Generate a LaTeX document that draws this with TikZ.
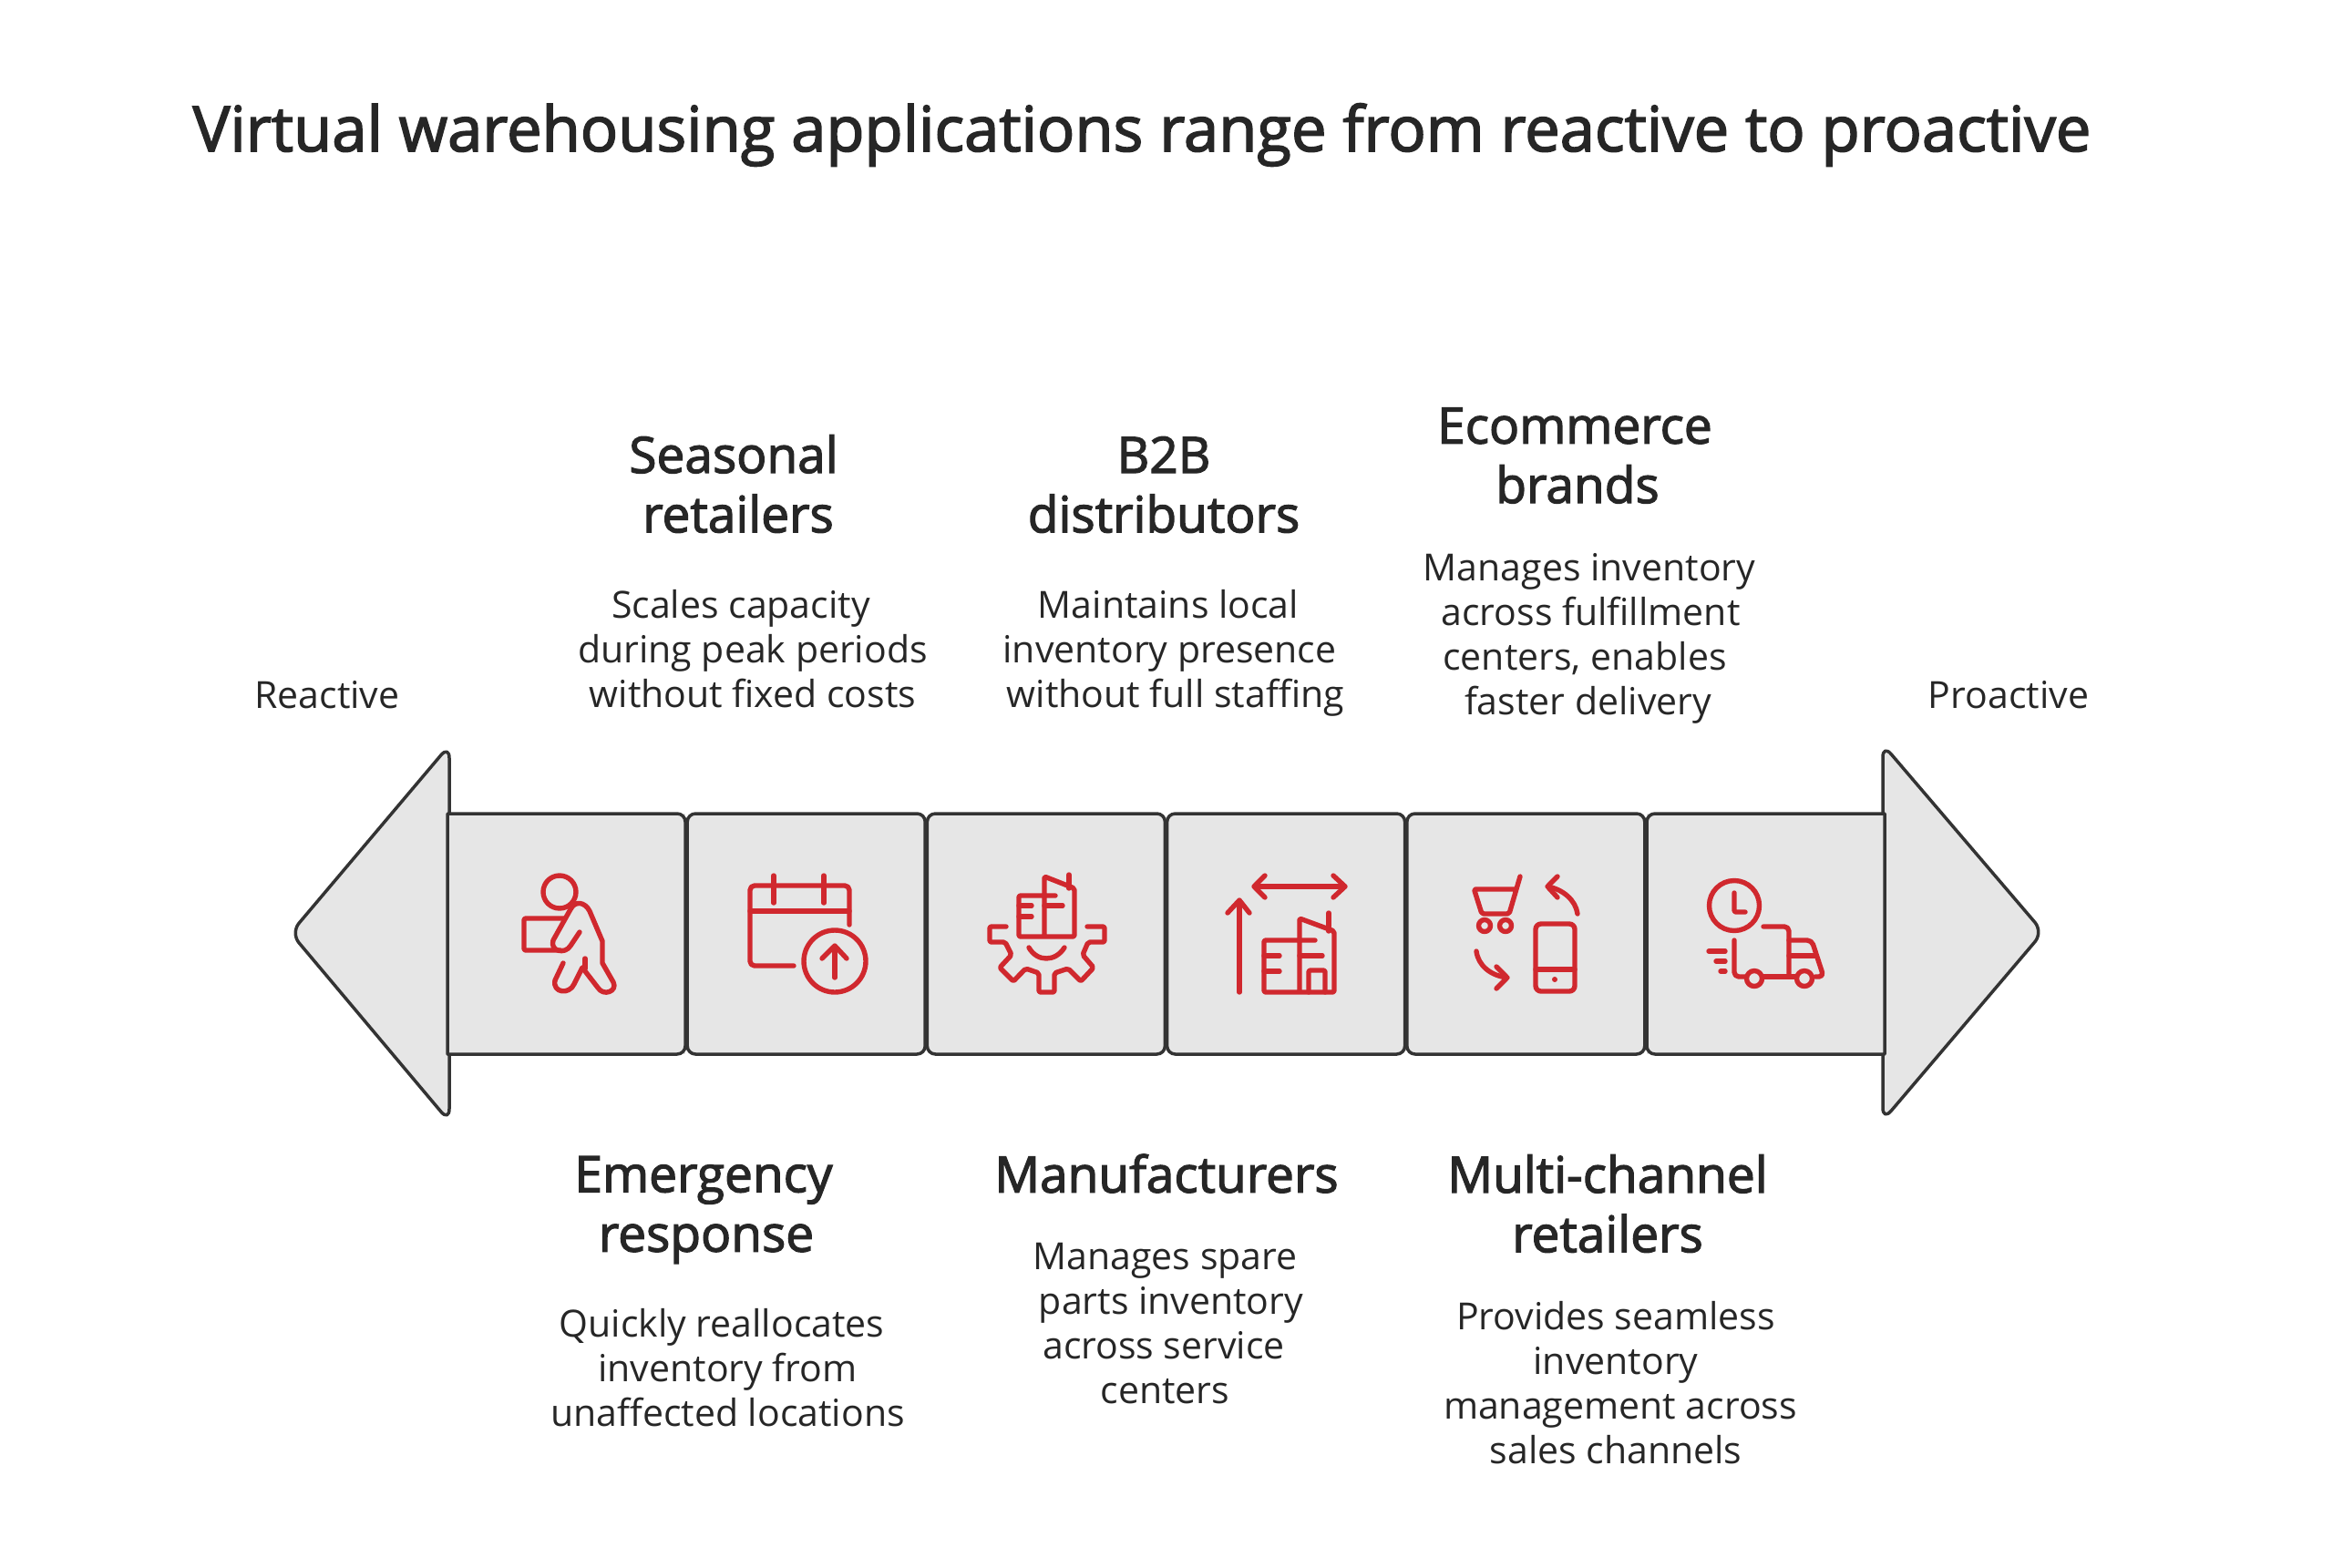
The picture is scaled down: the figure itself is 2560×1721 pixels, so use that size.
\documentclass[tikz,border=0pt]{standalone}
\usepackage{fontspec}
\setmainfont{Open Sans}
\newfontfamily\headfont{Open Sans}[FakeBold=2.3]
\usetikzlibrary{positioning}
\definecolor{ink}{HTML}{262626}
\definecolor{edge}{HTML}{333333}
\definecolor{panel}{HTML}{E6E6E6}
\definecolor{iconred}{HTML}{D0282E}
\newcommand{\nudge}[1]{\hspace*{#1pt}}
\tikzset{
stepbox/.style={
	  fill=panel, draw=edge, line width=3.5pt, rounded corners=9pt, outer sep=0pt,
	    minimum width=261pt, minimum height=264pt, inner sep=0pt},
plainbox/.style={stepbox, draw=none, sharp corners},
edgeline/.style={draw=edge, line width=3.5pt, line join=round},
endarrow/.style={edgeline, fill=panel, rounded corners=14pt},
iconline/.style={draw=iconred, line width=5.4pt, line cap=round, line join=round, rounded corners=2pt},
maintitle/.style={text=ink, inner sep=0pt, font=\headfont\fontsize{68.7}{76}\selectfont},
headtext/.style={text=ink, align=center, inner sep=0pt, font=\headfont\fontsize{55}{65.3}\selectfont},
bodytext/.style={text=ink, align=center, inner sep=0pt, font=\fontsize{41}{49}\selectfont}
}

\begin{document}
\begin{tikzpicture}[x=1pt, y=-1pt]
	\useasboundingbox (0,0) rectangle (2560,1721);

	\node[maintitle] (title) at (1253,148) {Virtual warehousing applications range from reactive to proactive};

	\draw[endarrow] (493,818) -- (319,1024) -- (493,1231) -- cycle;
	\draw[endarrow] (2066,817) -- (2242,1023) -- (2066,1230) -- cycle;

	\node[plainbox] (box1) at (621.5,1025) {};
	\node[stepbox, right=2.2pt of box1] (box2) {};
	\node[stepbox, right=2.2pt of box2] (box3) {};
	\node[stepbox, right=2.2pt of box3] (box4) {};
	\node[stepbox, right=2.2pt of box4] (box5) {};
	\node[plainbox, right=2.2pt of box5] (box6) {};
	\draw[edgeline, rounded corners=9pt] (box1.north east) -- (box1.south east) -- ++(-20,0) [sharp corners] -- (box1.south west) -- (box1.north west) -- ++(20,0) [rounded corners=9pt] -- cycle;
	\draw[edgeline, rounded corners=9pt] (box6.north west) -- (box6.south west) -- ++(20,0) [sharp corners] -- (box6.south east) -- (box6.north east) -- ++(-20,0) [rounded corners=9pt] -- cycle;

	\node[bodytext] (reactive) at (359,763) {Reactive};
	\node[bodytext] (proactive) at (2204,763) {Proactive};

	\node[headtext] (seasonal) at (805,531) {Seasonal\\\nudge{10}retailers};
	\node[bodytext] (seasonaltxt) at (826,712) {\nudge{-26}Scales capacity\\during peak periods\\without fixed costs};
	\node[headtext] (btob) at (1277,532) {B2B\\distributors};
	\node[bodytext] (btobtxt) at (1290,717) {\nudge{-16}Maintains local\\\nudge{-13}inventory presence\\without full staffing};
	\node[headtext] (ecom) at (1728,500) {Ecommerce\\\nudge{6}brands};
	\node[bodytext] (ecomtxt) at (1744,701) {Manages inventory\\\nudge{3}across fulfillment\\\nudge{-10}centers, enables\\\nudge{-3}faster delivery};
	\node[headtext] (emergency) at (772,1328) {Emergency\\\nudge{6}response};
	\node[bodytext] (emergencytxt) at (798.5,1501) {\nudge{-13}Quickly reallocates\\inventory from\\unaffected locations};
	\node[headtext] (manuf) at (1280,1288) {Manufacturers};
	\node[bodytext] (manuftxt) at (1285,1453) {\nudge{-13}Manages spare\\parts inventory\\\nudge{-16}across service\\\nudge{-13}centers};
	\node[headtext] (multi) at (1764,1321) {Multi-channel\\retailers};
	\node[bodytext] (multitxt) at (1778,1518) {\nudge{-10}Provides seamless\\\nudge{-10}inventory\\management across\\\nudge{-10}sales channels};

	\draw[iconline] (614,979) circle (18);
	\draw[iconline] (619,1008) -- (575,1008) -- (575,1043) -- (615,1043);
	\draw[iconline, rounded corners=0pt] (636,1023) -- (626,1038) .. controls (620,1048) and (603,1044) .. (607,1032) -- (626,998) .. controls (631,988) and (642,990) .. (647,1000) -- (661,1033) -- (661,1057) -- (673,1078) .. controls (678,1088) and (662,1094) .. (656,1084) -- (639,1062) -- (630,1080) .. controls (625,1092) and (606,1090) .. (609,1076) -- (618,1057);
	\draw[iconline] (642,1052) -- (642,1063);

	\draw[iconline, rounded corners=5pt] (871,1060) -- (823,1060) -- (823,972) -- (932,972) -- (932,1015);
	\draw[iconline] (823,1000) -- (932,1000);
	\draw[iconline] (849,961) -- (849,991);
	\draw[iconline] (904,961) -- (904,991);
	\draw[iconline] (916,1055) circle (34);
	\draw[iconline] (916,1073) -- (916,1038);
	\draw[iconline] (902,1052) -- (916,1038) -- (929,1052);

	\draw[iconline] (1104,1017) -- (1086,1017) -- (1086,1034) -- (1103,1034) -- (1110,1048) -- (1097,1062) -- (1112,1077) -- (1125.5,1063) -- (1140,1068) -- (1140,1089) -- (1157,1089) -- (1157,1068) -- (1172,1063) -- (1186,1077) -- (1200,1062) -- (1188,1048) -- (1194,1034) -- (1212,1034) -- (1212,1017) -- (1193,1017);
	\draw[iconline] (1129,1040) .. controls (1138,1056) and (1158,1056) .. (1168,1040);
	\draw[iconline] (1158,983) -- (1118,983) -- (1118,1028) -- (1179,1028) -- (1179,975) -- (1146,962) -- (1146,1028);
	\draw[iconline] (1173,960) -- (1173,975);
	\draw[iconline] (1118,994) -- (1132,994);
	\draw[iconline] (1118,1006) -- (1132,1006);
	\draw[iconline] (1146,994) -- (1166,994);

	\draw[iconline] (1360,1089) -- (1360,988);
	\draw[iconline] (1347,1002) -- (1360,988) -- (1371,1002);
	\draw[iconline] (1376,973) -- (1476,973);
	\draw[iconline] (1388,961) -- (1376,973) -- (1388,985);
	\draw[iconline] (1463,961) -- (1476,973) -- (1463,985);
	\draw[iconline] (1443,1032) -- (1387,1032) -- (1387,1089) -- (1464,1089) -- (1464,1022) -- (1426,1008) -- (1426,1089);
	\draw[iconline] (1458,1002) -- (1458,1022);
	\draw[iconline] (1387,1049) -- (1404,1049);
	\draw[iconline] (1387,1066) -- (1404,1066);
	\draw[iconline] (1426,1049) -- (1451,1049);
	\draw[iconline] (1436,1089) -- (1436,1065) -- (1454,1065) -- (1454,1089);

	\draw[iconline] (1668,962) -- (1656,1003) -- (1626,1003) -- (1617.5,976) -- (1664,976);
	\draw[iconline] (1629,1016) circle (6.5);
	\draw[iconline] (1652,1016) circle (6.5);
	\draw[iconline] (1731,1003) .. controls (1729,988) and (1715,976) .. (1698,973);
	\draw[iconline] (1709,962) -- (1698,973) -- (1709,985);
	\draw[iconline] (1620,1044) .. controls (1622,1060) and (1636,1071) .. (1654,1073);
	\draw[iconline] (1642,1061) -- (1654,1073) -- (1642,1085);
	\draw[iconline, rounded corners=6pt] (1685,1014) rectangle (1728,1088);
	\draw[iconline] (1685,1064) -- (1728,1064);
	\fill[iconred] (1706,1075) circle (3);

	\draw[iconline] (1903,994) circle (27.5);
	\draw[iconline] (1903,980) -- (1903,1001) -- (1915,1001);
	\draw[iconline, rounded corners=5pt] (1903,1032) -- (1903,1072) -- (1915,1072);
	\draw[iconline, rounded corners=5pt] (1935,1017) -- (1963,1017) -- (1963,1071);
	\draw[iconline, rounded corners=5pt] (1963,1032) -- (1988,1032) -- (2001,1072) -- (1992,1072);
	\draw[iconline] (1963,1049) -- (1993,1049);
	\draw[iconline] (1935,1072) -- (1970,1072);
	\draw[iconline] (1925,1074) circle (8.5);
	\draw[iconline] (1980,1074) circle (8.5);
	\draw[iconline] (1875,1044) -- (1893,1044);
	\draw[iconline] (1883,1055) -- (1893,1055);
	\draw[iconline] (1888,1066) -- (1893,1066);
\end{tikzpicture}
\end{document}
